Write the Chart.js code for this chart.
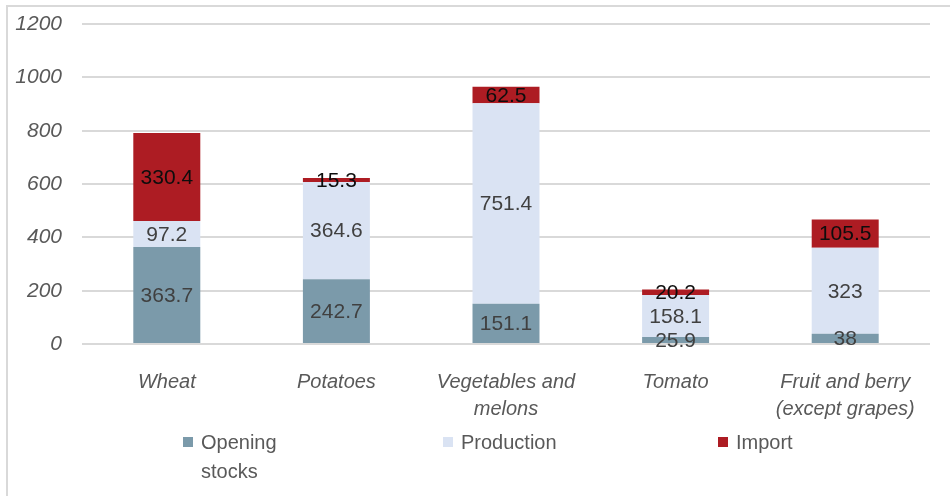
<!DOCTYPE html>
<html>
<head>
<meta charset="utf-8">
<script src="https://cdn.jsdelivr.net/npm/chart.js@4.4.0/dist/chart.umd.min.js"></script>
<style>
    html, body { margin: 0; padding: 0; background: #fff; }
    #wrap { position: relative; width: 950px; height: 496px; overflow: hidden; }
    #frame {
        position: absolute; left: 6px; top: 5px; width: 960px; height: 510px;
        border-left: 2px solid #d9d9d9; border-top: 2px solid #d9d9d9;
        box-sizing: border-box; pointer-events: none;
    }
    #chart { position: absolute; left: 0; top: 0; }
    .legend-item {
        position: absolute; top: 428px;
        font-family: 'Liberation Sans', Arial, sans-serif; font-size: 20px;
        color: #595959; line-height: 29px;
    }
    .legend-item .box {
        position: absolute; left: 0; top: 9px; width: 10px; height: 10px;
    }
    .legend-item .txt { margin-left: 18px; display: block; }
</style>
</head>
<body>
<div id="wrap">
    <canvas id="chart" width="950" height="496"></canvas>
    <div id="frame"></div>
    <div id="legend"></div>
</div>
<script>
// Chart data
const categories = [
    ['Wheat'],
    ['Potatoes'],
    ['Vegetables and', 'melons'],
    ['Tomato'],
    ['Fruit and berry', '(except grapes)']
];
const openingStocks = [363.7, 242.7, 151.1, 25.9, 38];
const production = [97.2, 364.6, 751.4, 158.1, 323];
const imports = [330.4, 15.3, 62.5, 20.2, 105.5];
const yTicks = [0, 200, 400, 600, 800, 1000, 1200];

const FONT = "'Liberation Sans', Arial, sans-serif";

// Draws the value of each segment at its centre
const segmentLabels = {
    id: 'segmentLabels',
    afterDatasetsDraw(chart) {
        const ctx = chart.ctx;
        ctx.save();
        ctx.font = `21px ${FONT}`;
        ctx.textAlign = 'center';
        ctx.textBaseline = 'middle';
        chart.data.datasets.forEach((ds, i) => {
            const meta = chart.getDatasetMeta(i);
            ctx.fillStyle = ds.labelColor;
            meta.data.forEach((bar, j) => {
                const y = (bar.y + bar.base) / 2;
                ctx.fillText(String(ds.data[j]), bar.x, y + 1);
            });
        });
        ctx.restore();
    }
};

const chart = new Chart(document.getElementById('chart'), {
    type: 'bar',
    data: {
        labels: categories,
        datasets: [
            { label: 'Opening stocks', legendLines: ['Opening', 'stocks'], data: openingStocks,
              backgroundColor: '#7b9aaa', labelColor: '#404040' },
            { label: 'Production', legendLines: ['Production'], data: production,
              backgroundColor: '#dae3f3', labelColor: '#404040' },
            { label: 'Import', legendLines: ['Import'], data: imports,
              backgroundColor: '#ad1c23', labelColor: '#0d0d0d' }
        ]
    },
    options: {
        responsive: false,
        animation: false,
        layout: { padding: { top: 24, right: 20, left: 0, bottom: 0 } },
        datasets: {
            bar: { categoryPercentage: 1, barPercentage: 0.395, borderWidth: 0 }
        },
        plugins: {
            legend: { display: false },
            tooltip: { enabled: false }
        },
        scales: {
            x: {
                stacked: true,
                grid: { display: false },
                border: { display: false },
                ticks: {
                    color: '#595959',
                    padding: 17,
                    maxRotation: 0,
                    autoSkip: false,
                    font: { family: FONT, size: 20, style: 'italic', lineHeight: 1.35 }
                },
                afterFit(scale) { scale.height = 152; }
            },
            y: {
                stacked: true,
                min: 0,
                max: 1200,
                grid: { color: '#d9d9d9', lineWidth: 2, drawTicks: false },
                border: { display: false },
                afterBuildTicks(scale) { scale.ticks = yTicks.map(v => ({ value: v })); },
                ticks: {
                    color: '#595959',
                    padding: 20,
                    callback: (v) => String(v),
                    font: { family: FONT, size: 21, style: 'italic' }
                },
                afterFit(scale) {
                    scale.width = 82;
                    scale.paddingTop = 0;
                    scale.paddingBottom = 0;
                }
            }
        }
    },
    plugins: [segmentLabels]
});

// HTML legend built from the datasets
const legendLeft = [183, 443, 718];
const legend = document.getElementById('legend');
chart.data.datasets.forEach((ds, i) => {
    const item = document.createElement('div');
    item.className = 'legend-item';
    item.style.left = legendLeft[i] + 'px';
    item.innerHTML = `<span class="box" style="background:${ds.backgroundColor}"></span>` +
        `<span class="txt">${ds.legendLines.join('<br>')}</span>`;
    legend.appendChild(item);
});
</script>
</body>
</html>
